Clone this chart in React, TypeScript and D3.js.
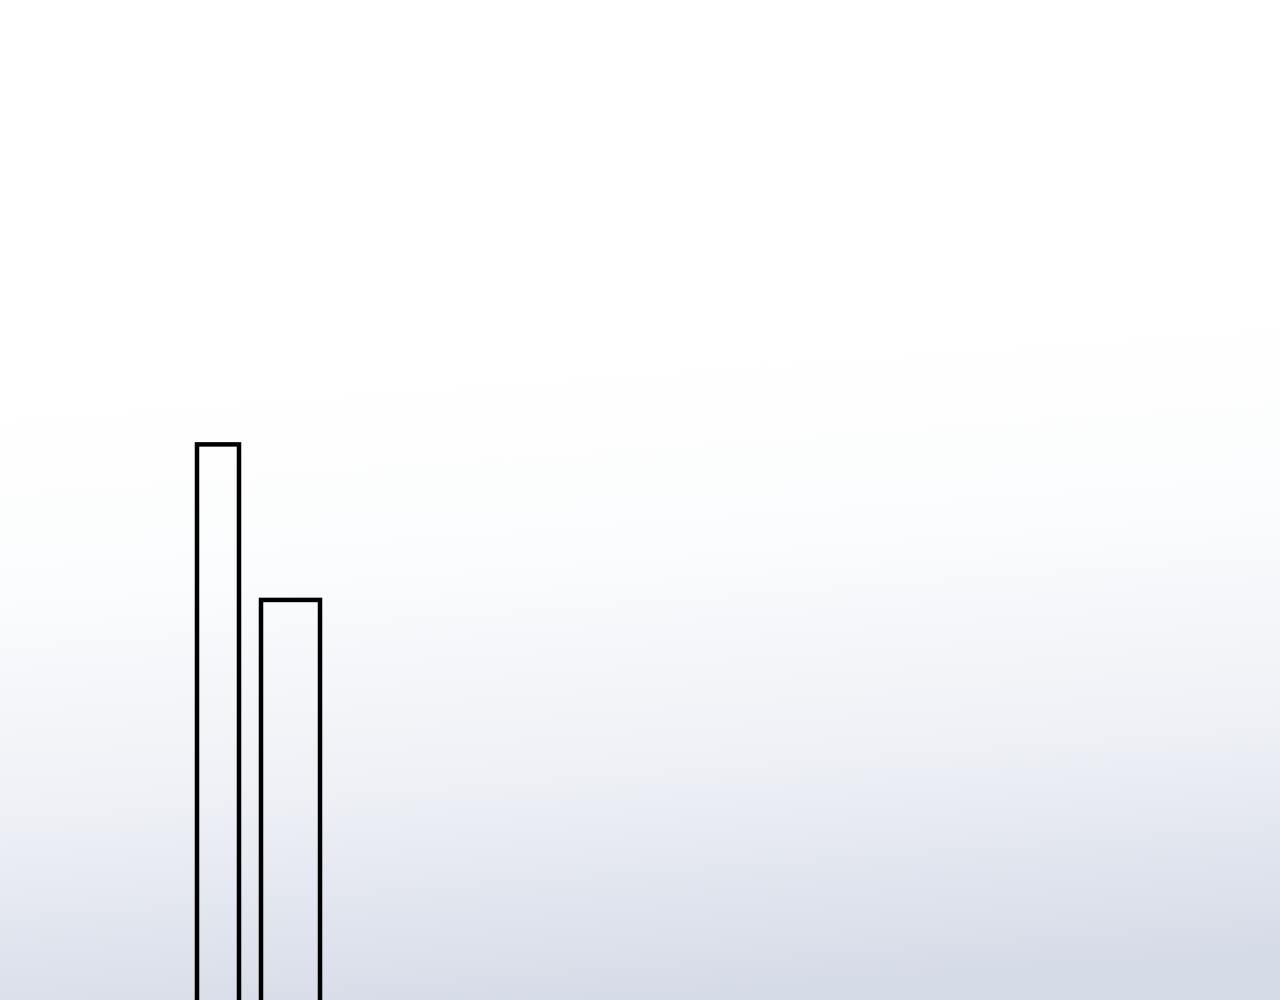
import * as d3 from "d3";

const WIDTH = 1280;
const HEIGHT = 1000;

// two bars, running past the bottom edge of the frame
const barStart = [9.85, 13.05];
const barEnd = [11.95, 16.0];
const barValue = [56, 40.6];

export default function App() {
  const x = d3.scaleLinear().domain([0, 64]).range([0, WIDTH]);
  const y = d3.scaleLinear().domain([0, 100]).range([1010, 0]);

  return (
    <svg
      width={WIDTH}
      height={HEIGHT}
      style={{ position: "fixed", top: 0, left: 0, display: "block" }}
    >
      <defs>
        <linearGradient id="bg" x1="0.47" y1="0.35" x2="0.53" y2="1">
          <stop offset="0" stopColor="#ffffff" />
          <stop offset="0.3" stopColor="#fbfcfd" />
          <stop offset="0.65" stopColor="#eef0f6" />
          <stop offset="1" stopColor="#d5dbe7" />
        </linearGradient>
      </defs>
      <rect width={WIDTH} height={HEIGHT} fill="url(#bg)" />
      <g>
        {barValue.map((v, i) => (
          <rect
            key={i}
            x={x(barStart[i])}
            y={y(v)}
            width={x(barEnd[i]) - x(barStart[i])}
            height={y(0) - y(v) + 20}
            fill="none"
            stroke="#000"
            strokeWidth={4.5}
          />
        ))}
      </g>
    </svg>
  );
}
